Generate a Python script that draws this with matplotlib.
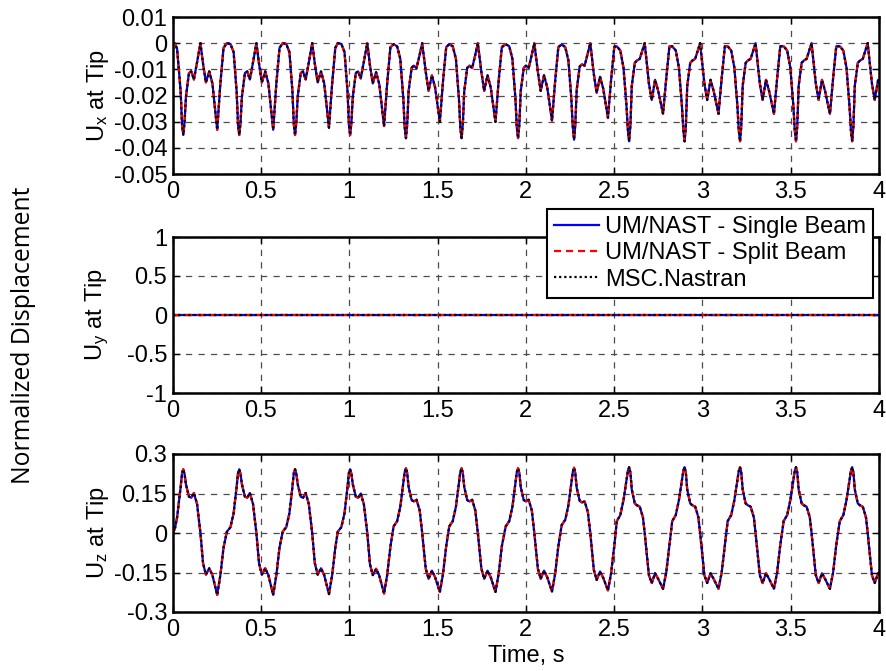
import matplotlib
matplotlib.use("Agg")
import matplotlib.pyplot as plt

plt.rcParams['font.family'] = ['Liberation Sans', 'DejaVu Sans']
plt.rcParams['mathtext.fontset'] = 'custom'
plt.rcParams['mathtext.rm'] = 'Liberation Sans'
plt.rcParams['mathtext.it'] = 'Liberation Sans:italic'

# ---------------- data ----------------
time_s = [
    0.000, 0.012, 0.025, 0.045, 0.053, 0.060, 0.067, 0.075, 0.092, 0.105, 0.120, 0.138, 0.157, 0.172, 0.188, 0.207, 0.225, 0.252, 0.270, 0.288,
    0.307, 0.327, 0.345, 0.362, 0.370, 0.377, 0.384, 0.392, 0.409, 0.422, 0.437, 0.455, 0.474, 0.489, 0.505, 0.524, 0.542, 0.569, 0.587, 0.605,
    0.623, 0.643, 0.661, 0.678, 0.686, 0.693, 0.700, 0.708, 0.725, 0.738, 0.753, 0.771, 0.790, 0.805, 0.821, 0.840, 0.858, 0.885, 0.903, 0.921,
    0.935, 0.955, 0.973, 0.990, 0.998, 1.005, 1.012, 1.020, 1.037, 1.050, 1.065, 1.083, 1.102, 1.117, 1.133, 1.152, 1.170, 1.197, 1.215, 1.233,
    1.251, 1.271, 1.289, 1.306, 1.314, 1.321, 1.328, 1.336, 1.353, 1.366, 1.381, 1.399, 1.413, 1.433, 1.449, 1.468, 1.486, 1.513, 1.531, 1.549,
    1.566, 1.586, 1.604, 1.621, 1.629, 1.636, 1.643, 1.651, 1.668, 1.681, 1.696, 1.714, 1.728, 1.748, 1.764, 1.783, 1.801, 1.828, 1.846, 1.864,
    1.886, 1.906, 1.924, 1.941, 1.949, 1.956, 1.963, 1.971, 1.988, 2.001, 2.016, 2.034, 2.048, 2.068, 2.084, 2.103, 2.121, 2.148, 2.166, 2.184,
    2.203, 2.223, 2.241, 2.258, 2.266, 2.273, 2.280, 2.288, 2.305, 2.318, 2.333, 2.351, 2.365, 2.385, 2.401, 2.420, 2.438, 2.465, 2.483, 2.501,
    2.515, 2.535, 2.553, 2.570, 2.578, 2.585, 2.592, 2.600, 2.617, 2.630, 2.645, 2.663, 2.673, 2.697, 2.713, 2.732, 2.750, 2.777, 2.795, 2.813,
    2.829, 2.849, 2.867, 2.884, 2.892, 2.899, 2.906, 2.914, 2.931, 2.944, 2.959, 2.977, 2.987, 3.011, 3.027, 3.046, 3.064, 3.091, 3.109, 3.127,
    3.143, 3.163, 3.181, 3.198, 3.206, 3.213, 3.220, 3.228, 3.245, 3.258, 3.273, 3.291, 3.301, 3.325, 3.341, 3.360, 3.378, 3.405, 3.423, 3.441,
    3.460, 3.480, 3.498, 3.515, 3.523, 3.530, 3.537, 3.545, 3.562, 3.575, 3.590, 3.608, 3.618, 3.642, 3.658, 3.677, 3.695, 3.722, 3.740, 3.758,
    3.778, 3.798, 3.816, 3.833, 3.841, 3.848, 3.855, 3.863, 3.880, 3.893, 3.908, 3.926, 3.936, 3.960, 3.976, 3.995, 4.000,
]

uz_tip = [
    0.000, 0.015, 0.060, 0.175, 0.228, 0.242, 0.225, 0.185, 0.138, 0.134, 0.152, 0.110, 0.000, -0.115, -0.158, -0.134, -0.160, -0.235, -0.160, -0.055,
    0.005, 0.022, 0.075, 0.175, 0.228, 0.242, 0.225, 0.185, 0.138, 0.134, 0.152, 0.110, 0.000, -0.115, -0.158, -0.134, -0.160, -0.235, -0.160, -0.055,
    0.005, 0.022, 0.075, 0.175, 0.228, 0.242, 0.225, 0.185, 0.138, 0.134, 0.152, 0.110, 0.000, -0.115, -0.158, -0.134, -0.160, -0.232, -0.160, -0.055,
    0.005, 0.022, 0.075, 0.175, 0.228, 0.242, 0.225, 0.185, 0.138, 0.134, 0.150, 0.108, 0.000, -0.118, -0.160, -0.136, -0.162, -0.230, -0.158, -0.052,
    0.025, 0.045, 0.100, 0.188, 0.232, 0.246, 0.228, 0.175, 0.125, 0.120, 0.126, 0.085, 0.000, -0.135, -0.174, -0.143, -0.168, -0.224, -0.155, -0.050,
    0.025, 0.045, 0.100, 0.188, 0.232, 0.246, 0.228, 0.175, 0.125, 0.120, 0.126, 0.085, 0.000, -0.135, -0.174, -0.143, -0.168, -0.224, -0.155, -0.050,
    0.025, 0.045, 0.100, 0.188, 0.232, 0.246, 0.228, 0.175, 0.125, 0.120, 0.126, 0.085, 0.000, -0.135, -0.174, -0.143, -0.168, -0.222, -0.155, -0.050,
    0.030, 0.050, 0.105, 0.190, 0.232, 0.248, 0.228, 0.172, 0.122, 0.116, 0.120, 0.080, 0.000, -0.140, -0.178, -0.146, -0.170, -0.218, -0.152, -0.048,
    0.045, 0.068, 0.125, 0.200, 0.236, 0.250, 0.230, 0.165, 0.112, 0.105, 0.100, 0.060, 0.000, -0.160, -0.190, -0.153, -0.175, -0.212, -0.150, -0.045,
    0.045, 0.068, 0.125, 0.200, 0.236, 0.250, 0.230, 0.165, 0.112, 0.105, 0.100, 0.060, 0.000, -0.160, -0.190, -0.153, -0.175, -0.212, -0.150, -0.045,
    0.045, 0.068, 0.125, 0.200, 0.236, 0.250, 0.230, 0.165, 0.112, 0.105, 0.100, 0.060, 0.000, -0.160, -0.190, -0.153, -0.175, -0.212, -0.150, -0.045,
    0.045, 0.068, 0.125, 0.200, 0.236, 0.250, 0.230, 0.165, 0.112, 0.105, 0.100, 0.060, 0.000, -0.160, -0.190, -0.153, -0.175, -0.212, -0.150, -0.045,
    0.045, 0.068, 0.125, 0.200, 0.236, 0.250, 0.230, 0.165, 0.112, 0.105, 0.100, 0.060, 0.000, -0.160, -0.190, -0.153, -0.158,
]

ux_tip = [
    0.0000, -0.0001, -0.0022, -0.0184, -0.0312, -0.0351, -0.0304, -0.0205, -0.0114, -0.0108, -0.0139, -0.0073, 0.0000, -0.0079, -0.0150, -0.0108, -0.0154, -0.0331, -0.0154, -0.0018,
    0.0000, -0.0003, -0.0034, -0.0184, -0.0312, -0.0351, -0.0304, -0.0205, -0.0114, -0.0108, -0.0139, -0.0073, 0.0000, -0.0079, -0.0150, -0.0108, -0.0154, -0.0331, -0.0154, -0.0018,
    0.0000, -0.0003, -0.0034, -0.0184, -0.0312, -0.0351, -0.0304, -0.0205, -0.0114, -0.0108, -0.0139, -0.0073, 0.0000, -0.0079, -0.0150, -0.0108, -0.0154, -0.0323, -0.0154, -0.0018,
    0.0000, -0.0003, -0.0034, -0.0184, -0.0312, -0.0351, -0.0304, -0.0205, -0.0114, -0.0108, -0.0135, -0.0070, 0.0000, -0.0084, -0.0154, -0.0111, -0.0157, -0.0317, -0.0150, -0.0016,
    -0.0004, -0.0012, -0.0060, -0.0212, -0.0323, -0.0363, -0.0312, -0.0184, -0.0094, -0.0086, -0.0095, -0.0043, 0.0000, -0.0109, -0.0182, -0.0123, -0.0169, -0.0301, -0.0144, -0.0015,
    -0.0004, -0.0012, -0.0060, -0.0212, -0.0323, -0.0363, -0.0312, -0.0184, -0.0094, -0.0086, -0.0095, -0.0043, 0.0000, -0.0109, -0.0182, -0.0123, -0.0169, -0.0301, -0.0144, -0.0015,
    -0.0004, -0.0012, -0.0060, -0.0212, -0.0323, -0.0363, -0.0312, -0.0184, -0.0094, -0.0086, -0.0095, -0.0043, 0.0000, -0.0109, -0.0182, -0.0123, -0.0169, -0.0296, -0.0144, -0.0015,
    -0.0005, -0.0015, -0.0066, -0.0217, -0.0323, -0.0369, -0.0312, -0.0178, -0.0089, -0.0081, -0.0086, -0.0038, 0.0000, -0.0118, -0.0190, -0.0128, -0.0173, -0.0285, -0.0139, -0.0014,
    -0.0012, -0.0028, -0.0094, -0.0240, -0.0334, -0.0375, -0.0317, -0.0163, -0.0075, -0.0066, -0.0060, -0.0022, 0.0000, -0.0154, -0.0217, -0.0140, -0.0184, -0.0270, -0.0135, -0.0012,
    -0.0012, -0.0028, -0.0094, -0.0240, -0.0334, -0.0375, -0.0317, -0.0163, -0.0075, -0.0066, -0.0060, -0.0022, 0.0000, -0.0154, -0.0217, -0.0140, -0.0184, -0.0270, -0.0135, -0.0012,
    -0.0012, -0.0028, -0.0094, -0.0240, -0.0334, -0.0375, -0.0317, -0.0163, -0.0075, -0.0066, -0.0060, -0.0022, 0.0000, -0.0154, -0.0217, -0.0140, -0.0184, -0.0270, -0.0135, -0.0012,
    -0.0012, -0.0028, -0.0094, -0.0240, -0.0334, -0.0375, -0.0317, -0.0163, -0.0075, -0.0066, -0.0060, -0.0022, 0.0000, -0.0154, -0.0217, -0.0140, -0.0184, -0.0270, -0.0135, -0.0012,
    -0.0012, -0.0028, -0.0094, -0.0240, -0.0334, -0.0375, -0.0317, -0.0163, -0.0075, -0.0066, -0.0060, -0.0022, 0.0000, -0.0154, -0.0217, -0.0140, -0.0150,
]

uy_time = [0.0, 4.0]
uy_tip = [0.0, 0.0]

series_names = ["UM/NAST - Single Beam", "UM/NAST - Split Beam", "MSC.Nastran"]

x_ticks = [0, 0.5, 1, 1.5, 2, 2.5, 3, 3.5, 4]
x_tick_labels = ["0", "0.5", "1", "1.5", "2", "2.5", "3", "3.5", "4"]
ux_ticks = [0.01, 0, -0.01, -0.02, -0.03, -0.04, -0.05]
ux_tick_labels = ["0.01", "0", "-0.01", "-0.02", "-0.03", "-0.04", "-0.05"]
uy_ticks = [1, 0.5, 0, -0.5, -1]
uy_tick_labels = ["1", "0.5", "0", "-0.5", "-1"]
uz_ticks = [0.3, 0.15, 0, -0.15, -0.3]
uz_tick_labels = ["0.3", "0.15", "0", "-0.15", "-0.3"]

# ---------------- figure ----------------
W, H = 887, 671
fig = plt.figure(figsize=(W / 100, H / 100), dpi=100)

left = 172.7 / W
width = (879 - 172.7) / W
boxes = [(17, 174), (237, 393), (454, 612)]
axes = []
for top, bot in boxes:
    axes.append(fig.add_axes([left, 1 - bot / H, width, (bot - top) / H]))

FS = 17
styles = [dict(color="#0000ff", ls="-", lw=1.6),
          dict(color="#ff0000", ls=(0, (3.2, 2.2)), lw=1.6),
          dict(color="black", ls=(0, (1, 1.3)), lw=1.6)]

data = [(time_s, ux_tip), (uy_time, uy_tip), (time_s, uz_tip)]
ylims = [(-0.05, 0.01), (-1, 1), (-0.3, 0.3)]
yticks = [(ux_ticks, ux_tick_labels), (uy_ticks, uy_tick_labels), (uz_ticks, uz_tick_labels)]
ylabels = [r"U$_\mathrm{x}$ at Tip", r"U$_\mathrm{y}$ at Tip", r"U$_\mathrm{z}$ at Tip"]

handles = []
for i, ax in enumerate(axes):
    xs, ys = data[i]
    hs = []
    for st, name in zip(styles, series_names):
        h, = ax.plot(xs, ys, label=name, **st)
        hs.append(h)
    if i == 1:
        handles = hs
    ax.set_xlim(0, 4)
    ax.set_ylim(*ylims[i])
    ax.set_xticks(x_ticks)
    ax.set_xticklabels(x_tick_labels)
    ax.set_yticks(yticks[i][0])
    ax.set_yticklabels(yticks[i][1])
    ax.grid(True, color="0.3", ls=(0, (5, 5)), lw=0.9)
    ax.tick_params(direction="in", length=5, width=1, labelsize=FS,
                   top=True, right=True, pad=5)
    ax.tick_params(axis="y", pad=4)
    for sp in ax.spines.values():
        sp.set_linewidth(1.8)
    ax.set_ylabel(ylabels[i], fontsize=FS)
    ax.yaxis.set_label_coords(-0.088, 0.5)

axes[2].set_xlabel("Time, s", fontsize=FS, labelpad=3)

leg = axes[1].legend(handles=handles, loc="upper right",
                     bbox_to_anchor=(873 / W, 1 - 209 / H),
                     bbox_transform=fig.transFigure,
                     fontsize=FS, frameon=True, fancybox=False,
                     framealpha=1, edgecolor="black", borderpad=0.3,
                     labelspacing=0.18, handlelength=1.9, handletextpad=0.25,
                     borderaxespad=0)
leg.get_frame().set_linewidth(1.5)

fig.text(24 / W, 1 - 335 / H, "Normalized Displacement", rotation=90,
         ha="center", va="center", fontsize=17.8,
         family=["Open Sans", "DejaVu Sans"])

fig.savefig("out.png", dpi=100)
